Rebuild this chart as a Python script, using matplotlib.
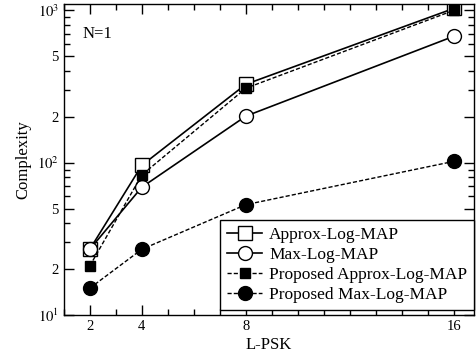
import matplotlib
matplotlib.use("Agg")
import matplotlib.pyplot as plt
from matplotlib.ticker import FixedLocator, FixedFormatter, MultipleLocator, LogLocator, NullFormatter

plt.rcParams['font.family'] = ['Liberation Serif', 'DejaVu Serif']
plt.rcParams['mathtext.fontset'] = 'stix'

x = [2, 4, 8, 16]
approx_log_map = [27, 96, 327, 1030]
max_log_map = [27, 69, 202, 676]
prop_approx_log_map = [21, 83, 308, 1000]
prop_max_log_map = [15, 27, 53, 102]

fig = plt.figure(figsize=(4.76, 3.6), dpi=100)
ax = fig.add_axes([0.134, 0.125, 0.862, 0.864])

ax.plot(x, approx_log_map, '-', color='black', lw=1.2, marker='s', ms=9.5,
        mfc='white', mec='black', mew=1.0, label='Approx-Log-MAP')
ax.plot(x, max_log_map, '-', color='black', lw=1.2, marker='o', ms=10,
        mfc='white', mec='black', mew=1.0, label='Max-Log-MAP')
ax.plot(x, prop_approx_log_map, '--', dashes=(3, 1.5), color='black', lw=1.0, marker='s', ms=7.5,
        mfc='black', mec='black', label='Proposed Approx-Log-MAP')
ax.plot(x, prop_max_log_map, '--', dashes=(3, 1.5), color='black', lw=1.0, marker='o', ms=10,
        mfc='black', mec='black', label='Proposed Max-Log-MAP')

ax.set_yscale('log')
ax.set_xlim(1, 16.77)
ax.set_ylim(10, 1100)

ax.xaxis.set_major_locator(FixedLocator(x))
ax.xaxis.set_minor_locator(MultipleLocator(1))
ax.yaxis.set_major_locator(FixedLocator([10, 20, 50, 100, 200, 500, 1000]))
ax.yaxis.set_major_formatter(FixedFormatter(['$10^{1}$', '2', '5', '$10^{2}$', '2', '5', '$10^{3}$']))
ax.yaxis.set_minor_locator(LogLocator(base=10, subs=[3, 4, 6, 7, 8, 9]))
ax.yaxis.set_minor_formatter(NullFormatter())

ax.tick_params(which='both', direction='in', top=True, right=True, labelsize=10.5)
ax.tick_params(which='major', length=7, width=1)
ax.tick_params(which='minor', length=4, width=1)
for s in ax.spines.values():
    s.set_linewidth(1.0)

ax.set_xlabel('L-PSK', fontsize=12, labelpad=3)
ax.set_ylabel('Complexity', fontsize=12, labelpad=4)
ax.text(0.045, 0.93, 'N=1', transform=ax.transAxes, fontsize=12, va='top')

leg = ax.legend(loc='lower right', bbox_to_anchor=(1.0, 5 / 311), fontsize=12.5, frameon=True,
                fancybox=False, edgecolor='black', framealpha=1, borderpad=0.4,
                labelspacing=0.22, handlelength=2.0, handletextpad=0.4, borderaxespad=0)
leg.get_frame().set_linewidth(1.0)

fig.savefig('out.png', dpi=100)
